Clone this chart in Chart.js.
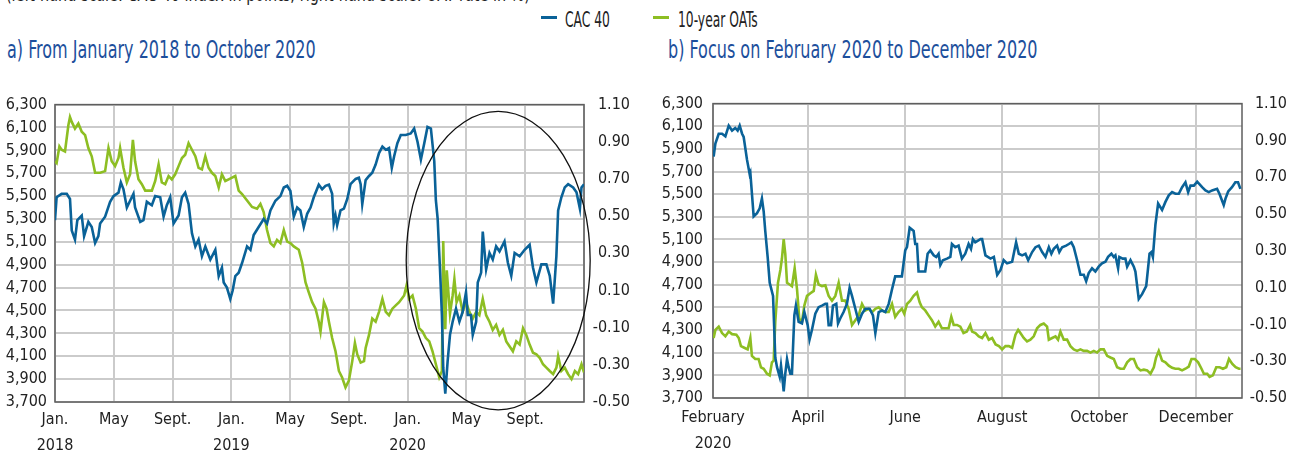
<!DOCTYPE html>
<html lang="en">
<head>
<meta charset="UTF-8">
<title>CAC 40 and 10-year OATs</title>
<script src="https://cdn.jsdelivr.net/npm/chart.js@4.4.1/dist/chart.umd.min.js"></script>
<style>
	body { margin: 0; width: 1301px; height: 455px; overflow: hidden; background: #fff;
		font-family: 'DejaVu Sans Condensed', 'DejaVu Sans', sans-serif; color: #222; }
	.abs { position: absolute; white-space: nowrap; }
	.note { left: 6px; top: -18px; font-size: 20px; transform: scaleX(0.8); transform-origin: left top; }
	.title { top: 36px; font-size: 22px; line-height: 26px; color: #1d4f9c; transform: scale(0.81, 1.1); transform-origin: left top; }
	.leg { top: 7px; font-size: 18px; line-height: 22px; transform: scale(0.76, 1.15); transform-origin: left top; }
	.dash { position: absolute; top: 16px; height: 3px; width: 16px; }
	canvas { position: absolute; }
</style>
</head>
<body>
	<div class="abs note">(left-hand scale: CAC 40 index in points; right-hand scale: OAT rate in %)</div>

	<!-- legende -->
	<div class="dash" style="left:541px; background:#0a6298"></div>
	<div class="abs leg" style="left:565px">CAC 40</div>
	<div class="dash" style="left:653px; background:#8dbe23"></div>
	<div class="abs leg" style="left:678px">10-year OATs</div>

	<div class="abs title" style="left:7px">a) From January 2018 to October 2020</div>
	<div class="abs title" style="left:668px">b) Focus on February 2020 to December 2020</div>

	<canvas id="chartA" width="650" height="368" style="left:0; top:87px"></canvas>
	<canvas id="chartB" width="651" height="371" style="left:650px; top:84px"></canvas>

<script>
	// ---- a) months since January 2018 ----
	var cacMonthsA = [0, 0.11, 0.45, 0.80, 1.02, 1.14, 1.36, 1.52, 1.82, 1.98, 2.27, 2.50, 2.73, 2.95, 3.07, 3.41, 3.75, 3.98,
		4.32, 4.48, 4.66, 4.89, 5.11, 5.34, 5.45, 5.80, 6.02, 6.25, 6.59, 6.82, 7.16, 7.39, 7.61, 7.84, 8.07, 8.41, 8.64, 8.86,
		9.09, 9.32, 9.55, 9.77, 10.00, 10.23, 10.57, 10.91, 11.14, 11.36, 11.48, 11.70, 11.93, 12.09, 12.27, 12.50, 12.73,
		13.07, 13.30, 13.52, 13.86, 14.20, 14.43, 14.66, 15.00, 15.34, 15.57, 15.80, 16.02, 16.25, 16.48, 16.70, 16.93, 17.16,
		17.39, 17.61, 17.95, 18.18, 18.41, 18.64, 18.86, 18.97, 19.09, 19.20, 19.43, 19.66, 19.89, 20.11, 20.46, 20.68, 20.80,
		20.91, 21.14, 21.37, 21.59, 21.82, 22.05, 22.28, 22.51, 22.73, 22.92, 23.08, 23.30, 23.53, 23.87, 24.21, 24.44, 24.67,
		24.90, 25.13, 25.35, 25.58, 25.81, 25.92, 26.04, 26.20, 26.33, 26.42, 26.56, 26.72, 26.88, 27.06, 27.29, 27.52, 27.74,
		27.97, 28.09, 28.31, 28.43, 28.66, 28.77, 29.00, 29.11, 29.34, 29.57, 29.79, 30.02, 30.25, 30.59, 30.82, 31.05, 31.28,
		31.62, 31.96, 32.30, 32.53, 32.76, 33.10, 33.44, 33.67, 33.90, 34.12, 34.24, 34.46, 34.69, 34.92, 35.26, 35.49, 35.72,
		35.83, 36.00];
	var cacA = [5290, 5490, 5520, 5520, 5475, 5200, 5120, 5290, 5330, 5150, 5275, 5230, 5090, 5150, 5260, 5320, 5450, 5500,
		5530, 5620, 5560, 5400, 5460, 5520, 5400, 5275, 5290, 5450, 5420, 5500, 5490, 5320, 5420, 5490, 5260, 5330, 5490, 5530,
		5430, 5175, 5060, 5120, 4975, 5060, 4945, 5030, 4800, 4875, 4745, 4700, 4600, 4675, 4800, 4830, 4915,
		5060, 5030, 5160, 5230, 5300, 5260, 5375, 5460, 5500, 5575, 5590, 5545, 5320, 5400, 5375, 5230, 5345,
		5400, 5490, 5600, 5560, 5590, 5600, 5520, 5260, 5330, 5246, 5375, 5390, 5475, 5604, 5650, 5660, 5604,
		5430, 5640, 5676, 5705, 5776, 5876, 5933, 5905, 5920, 5747, 5848, 5962, 6034, 6034, 6048, 6091, 5976,
		5819, 5962, 6105, 6091, 5805, 5462, 5304, 4860, 4460, 4000, 3772, 4058, 4287, 4402, 4516, 4402, 4488,
		4660, 4460, 4460, 4287, 4402, 4745, 4831, 5190, 4860, 5003, 4946, 5060, 5017, 5103, 4917, 4803, 5003,
		4974, 5031, 5074, 4874, 4745, 4903, 4903, 4803, 4560, 4974, 5375, 5490, 5576, 5604, 5576, 5533, 5390,
		5576, 5604];

	var oatMonthsA = [0, 0.11, 0.30, 0.45, 0.68, 0.91, 1.02, 1.14, 1.36, 1.59, 1.82, 2.05, 2.27, 2.50, 2.73, 3.07, 3.41, 3.64,
		3.86, 4.09, 4.32, 4.43, 4.66, 4.89, 5.11, 5.30, 5.45, 5.68, 5.91, 6.14, 6.36, 6.59, 6.82, 7.05, 7.27, 7.50, 7.73, 7.95,
		8.18, 8.41, 8.64, 8.86, 9.09, 9.32, 9.55, 9.77, 10.00, 10.23, 10.45, 10.68, 10.91, 11.14, 11.36, 11.59, 11.82, 12.05,
		12.27, 12.50, 12.73, 13.07, 13.41, 13.75, 13.98, 14.20, 14.43, 14.66, 14.89, 15.11, 15.34, 15.57, 15.80, 16.02, 16.25,
		16.59, 16.82, 17.05, 17.27, 17.50, 17.73, 17.95, 18.07, 18.30, 18.48, 18.64, 18.86, 19.09, 19.32, 19.54, 19.77, 20.00,
		20.23, 20.41, 20.57, 20.80, 21.03, 21.14, 21.37, 21.59, 21.82, 22.05, 22.28, 22.51, 22.73, 22.96, 23.19, 23.42, 23.76,
		23.92, 24.10, 24.33, 24.56, 24.78, 25.01, 25.24, 25.47, 25.69, 25.92, 26.15, 26.33, 26.42, 26.56, 26.66, 26.88, 27.06,
		27.18, 27.33, 27.52, 27.74, 27.97, 28.20, 28.43, 28.66, 28.88, 29.11, 29.34, 29.57, 29.79, 30.02, 30.25, 30.48, 30.71,
		30.93, 31.16, 31.39, 31.62, 31.85, 32.07, 32.30, 32.53, 32.76, 32.98, 33.21, 33.44, 33.67, 33.90, 34.12, 34.24, 34.46,
		34.69, 34.92, 35.15, 35.38, 35.60, 35.83, 36.00];
	var oatA = [0.795, 0.786, 0.875, 0.857, 0.848, 0.989, 1.033, 1.007, 0.971, 0.998, 0.954, 0.936, 0.866, 0.822, 0.733, 0.733,
		0.742, 0.866, 0.795, 0.769, 0.813, 0.866, 0.760, 0.681, 0.725, 0.910, 0.795, 0.698, 0.672, 0.637, 0.637, 0.637, 0.689,
		0.778, 0.681, 0.672, 0.716, 0.698, 0.725, 0.769, 0.813, 0.830, 0.892, 0.857, 0.822, 0.760, 0.751, 0.822, 0.760, 0.733,
		0.716, 0.654, 0.725, 0.689, 0.698, 0.707, 0.716, 0.637, 0.619, 0.584, 0.549, 0.540, 0.566, 0.522, 0.425, 0.355, 0.337,
		0.372, 0.355, 0.425, 0.363, 0.355, 0.337, 0.319, 0.249, 0.143, 0.090, 0.037, 0.002, -0.068, -0.121, 0.037, 0.002,
		-0.068, -0.156, -0.227, -0.333, -0.368, -0.421, -0.385, -0.280, -0.183, -0.244, -0.288, -0.280, -0.209, -0.139, -0.051,
		-0.068, -0.015, 0.055, -0.015, -0.033, 0.002, 0.020, 0.037, 0.073, 0.126, 0.055, 0.073, 0.002, -0.103, -0.121, -0.156,
		-0.174, -0.227, -0.297, -0.368, -0.333, 0.366, -0.109, 0.208, -0.025, 0.073, 0.161, 0.037, 0.073, -0.015, 0.037, -0.015,
		-0.051, -0.015, -0.033, 0.055, -0.033, -0.068, -0.112, -0.085, -0.139, -0.112, -0.174, -0.200, -0.227, -0.174, -0.191,
		-0.103, -0.139, -0.191, -0.235, -0.244, -0.262, -0.297, -0.315, -0.333, -0.350, -0.315, -0.253, -0.333, -0.315, -0.350,
		-0.377, -0.333, -0.350, -0.297, -0.341];

	var tickMonthsA = [0, 4, 8, 12, 16, 20, 24, 28, 32, 36];
	var tickLabelsA = [['Jan.', '2018'], 'May', 'Sept.', ['Jan.', '2019'], 'May', 'Sept.', ['Jan.', '2020'], 'May', 'Sept.', ''];

	// cercle sur la periode covid (mois, points)
	var circleA = { month: 30.16, value: 4936, halfMonths: 6.26, halfPoints: 1304 };

	// ---- b) days since 1 February 2020 ----
	var cacDaysB = [0.4, 1.5, 3.6, 5.7, 7.8, 9.9, 12.0, 14.0, 15.5, 16.8, 18.3, 19.3, 21.4, 23.1, 23.5, 25.6, 27.7, 29.4, 30.8,
		31.9, 32.9, 34.4, 35.7, 37.8, 39.2, 40.3, 42.0, 42.8, 43.6, 44.5, 45.5, 46.6, 47.6, 48.7, 49.7, 51.2, 52.2, 53.9, 56.0,
		57.5, 59.6, 60.8, 62.3, 64.4, 66.5, 68.6, 70.7, 71.7, 72.8, 74.3, 75.5, 77.6, 78.7, 80.1, 82.2, 84.3, 86.0, 87.5, 89.6,
		91.7, 93.8, 95.9, 98.6, 100.7, 102.2, 104.3, 106.4, 108.5, 110.6, 112.7, 114.7, 116.8, 118.9, 121.0, 122.1, 123.8, 126.3,
		127.3, 128.4, 129.4, 131.5, 133.6, 135.1, 136.8, 138.9, 140.5, 142.0, 143.1, 144.7, 147.3, 149.4, 150.4, 152.5, 154.6,
		156.7, 158.8, 160.9, 162.4, 163.6, 165.1, 168.4, 169.4, 171.5, 174.7, 176.8, 178.9, 181.0, 183.0, 185.1, 188.3, 190.8,
		192.5, 194.6, 196.7, 198.4, 200.9, 203.0, 205.1, 207.2, 209.3, 211.4, 213.0, 214.5, 216.6, 218.0, 219.8, 222.3, 224.0,
		225.6, 227.1, 229.2, 231.3, 233.4, 234.9, 236.5, 238.6, 240.7, 242.8, 244.9, 247.0, 248.7, 250.8, 252.3, 253.3, 255.0,
		255.8, 257.9, 259.6, 260.7, 262.8, 264.9, 265.9, 268.0, 270.1, 272.7, 274.8, 276.0, 276.9, 278.5, 280.2, 282.7, 284.8,
		286.9, 289.0, 291.1, 293.2, 295.3, 297.4, 299.1, 300.6, 302.7, 304.8, 307.9, 310.0, 312.1, 314.2, 317.3, 318.8, 321.5,
		322.6, 324.3, 326.7, 328.8, 330.5, 332.0];
	var cacB = [5833, 5948, 6034, 6034, 6011, 6105, 6062, 6085, 6062, 6105, 6034, 6005, 5805, 5676, 5690, 5304, 5332, 5375, 5461,
		5347, 5175, 4946, 4717, 4602, 4058, 3972, 3886, 3986, 3886, 3758, 3915, 4044, 3972, 3915, 3915, 4430, 4516, 4373, 4359,
		4459, 4344, 4216, 4302, 4445, 4502, 4516, 4531, 4531, 4344, 4344, 4516, 4531, 4359, 4402, 4459, 4531, 4674, 4602, 4488,
		4373, 4445, 4488, 4488, 4430, 4273, 4459, 4473, 4459, 4531, 4660, 4774, 4774, 4774, 5003, 5032, 5203, 5175,
		5060, 5060, 4817, 4817, 4817, 4974, 5003, 4960, 4946, 4974, 4874, 4917, 4931, 4946, 5060, 5032, 5046,
		4931, 4974, 5060, 5017, 5103, 5075, 5103, 5103, 4960, 4931, 4946, 4788, 4831, 4917, 4889, 4903, 5075,
		4974, 4960, 4974, 4917, 4989, 5032, 5046, 4989, 4946, 5032, 4974, 5017, 5046, 4989, 5032, 5046, 5060,
		5075, 5032, 4917, 4788, 4788, 4731, 4803, 4846, 4817, 4860, 4889, 4903, 4946, 4974, 4946, 4960, 4846,
		4946, 4931, 4931, 4860, 4917, 4860, 4817, 4574, 4617, 4688, 4974, 4989, 4946, 5232, 5418, 5361, 5432,
		5490, 5518, 5504, 5504, 5562, 5605, 5518, 5576, 5576, 5610, 5562, 5533, 5518, 5533, 5547, 5504, 5404,
		5461, 5524, 5562, 5605, 5605, 5547];

	var oatDaysB = [0.4, 1.5, 3.6, 5.7, 7.8, 9.9, 12.0, 14.7, 16.2, 17.6, 19.7, 21.8, 23.5, 24.5, 26.6, 28.7, 30.2, 31.9, 34.0,
		35.7, 37.1, 38.2, 39.2, 40.9, 42.4, 43.4, 44.5, 45.5, 46.6, 48.2, 49.7, 51.4, 52.9, 54.3, 56.0, 57.5, 59.2, 61.3, 63.4,
		64.8, 66.5, 68.6, 70.7, 72.8, 74.9, 77.0, 79.1, 81.2, 83.3, 85.4, 87.5, 89.6, 91.7, 93.8, 95.9, 98.0, 100.1, 102.2,
		104.3, 106.4, 108.5, 110.6, 112.7, 114.7, 116.8, 118.9, 120.4, 122.1, 124.2, 126.3, 128.4, 130.1, 131.5, 133.6, 135.7,
		137.8, 139.9, 142.0, 144.1, 146.2, 148.3, 150.0, 151.5, 153.6, 155.7, 157.7, 159.8, 161.9, 163.1, 165.2, 167.3, 169.4,
		171.5, 173.6, 175.7, 177.9, 180.0, 182.0, 184.1, 186.2, 188.3, 190.4, 192.1, 193.5, 195.6, 197.7, 199.8, 201.9, 204.0,
		206.1, 208.2, 210.3, 211.4, 213.5, 215.6, 217.2, 218.7, 220.8, 222.9, 225.0, 227.1, 229.2, 231.3, 233.4, 235.5, 237.6,
		239.7, 241.8, 243.9, 246.0, 248.1, 250.2, 252.3, 254.4, 256.5, 258.6, 260.7, 262.8, 264.9, 267.0, 269.1, 271.2, 273.3,
		275.4, 277.5, 278.9, 280.6, 282.7, 284.8, 286.9, 289.0, 291.1, 293.2, 295.3, 297.4, 299.5, 301.2, 303.3, 305.4, 307.5,
		309.0, 311.1, 312.6, 314.7, 316.8, 318.9, 321.0, 323.1, 324.8, 326.9, 329.0, 331.1, 332.1];
	var oatB = [-0.174, -0.130, -0.112, -0.147, -0.165, -0.139, -0.153, -0.156, -0.174, -0.218, -0.227, -0.236, -0.174, -0.271,
		-0.288, -0.288, -0.333, -0.341, -0.368, -0.377, -0.306, -0.297, -0.086, 0.126, 0.196, 0.258, 0.364, 0.284, 0.126, 0.117,
		0.108, 0.205, 0.090, -0.068, -0.086, 0.002, 0.055, 0.069, 0.082, 0.170, 0.117, 0.108, 0.112, 0.055, 0.029, 0.055, 0.126,
		0.029, 0.029, -0.015, -0.103, -0.077, -0.051, 0.011, -0.024, -0.015, -0.033, -0.015, -0.007, -0.024, -0.033, -0.033,
		0.011, -0.059, -0.033, -0.015, -0.042, 0.011, 0.029, 0.055, 0.073, 0.020, -0.007, -0.024, -0.051, -0.077, -0.112, -0.086,
		-0.121, -0.121, -0.121, -0.059, -0.103, -0.103, -0.112, -0.147, -0.139, -0.103, -0.139, -0.147, -0.165, -0.174, -0.147,
		-0.183, -0.174, -0.209, -0.218, -0.236, -0.218, -0.218, -0.227, -0.156, -0.130, -0.147, -0.174, -0.192, -0.183, -0.165,
		-0.121, -0.103, -0.095, -0.112, -0.183, -0.174, -0.165, -0.183, -0.139, -0.183, -0.183, -0.218, -0.236, -0.244, -0.236,
		-0.244, -0.244, -0.253, -0.244, -0.253, -0.236, -0.236, -0.271, -0.280, -0.288, -0.333, -0.341, -0.341, -0.306, -0.288,
		-0.288, -0.333, -0.350, -0.346, -0.350, -0.368, -0.333, -0.280, -0.244, -0.297, -0.306, -0.324, -0.336, -0.341, -0.341,
		-0.350, -0.341, -0.329, -0.288, -0.288, -0.306, -0.341, -0.368, -0.368, -0.385, -0.377, -0.333, -0.333, -0.341, -0.333,
		-0.288, -0.315, -0.333, -0.341, -0.341];

	var tickDaysB = [0, 60, 121, 182, 243, 304];
	var tickLabelsB = [['February', '2020'], 'April', 'June', 'August', 'October', 'December'];
	var lastDayB = 333;

	// axes
	var leftTicks = [3700, 3900, 4100, 4300, 4500, 4700, 4900, 5100, 5300, 5500, 5700, 5900, 6100, 6300];
	var rightTicks = [-0.5, -0.3, -0.1, 0.1, 0.3, 0.5, 0.7, 0.9, 1.1];

	var BLUE = '#0a6298';
	var GREEN = '#8dbe23';
	var GRID = '#cbcbcb';

	Chart.defaults.font.family = "'DejaVu Sans Condensed', 'DejaVu Sans', sans-serif";
	Chart.defaults.font.size = 16;
	Chart.defaults.color = '#222';

	function pairs(xs, ys) {
		return xs.map(function (x, i) { return { x: x, y: ys[i] }; });
	}

	var framePlugin = {
		id: 'frame',
		beforeDatasetsDraw: function (chart) {
			var a = chart.chartArea, ctx = chart.ctx;
			ctx.save();
			ctx.strokeStyle = '#5e5e5e';
			ctx.lineWidth = 1.5;
			ctx.strokeRect(a.left, a.top, a.right - a.left, a.bottom - a.top);
			ctx.restore();
		}
	};

	var circlePlugin = {
		id: 'circle',
		afterDraw: function (chart) {
			var xs = chart.scales.x, ys = chart.scales.y, ctx = chart.ctx;
			var cx = xs.getPixelForValue(circleA.month);
			var cy = ys.getPixelForValue(circleA.value);
			var rx = Math.abs(xs.getPixelForValue(circleA.month + circleA.halfMonths) - cx);
			var ry = Math.abs(ys.getPixelForValue(circleA.value + circleA.halfPoints) - cy);
			ctx.save();
			ctx.beginPath();
			ctx.ellipse(cx, cy, rx, ry, 0, 0, Math.PI * 2);
			ctx.lineWidth = 1.3;
			ctx.strokeStyle = '#111';
			ctx.stroke();
			ctx.restore();
		}
	};

	function makeChart(id, cfg) {
		return new Chart(document.getElementById(id), {
			type: 'line',
			data: {
				datasets: [{
					label: 'CAC 40',
					data: pairs(cfg.cacX, cfg.cacY),
					yAxisID: 'y',
					borderColor: BLUE,
					borderWidth: 2.6,
					pointRadius: 0,
					tension: 0
				}, {
					label: '10-year OATs',
					data: pairs(cfg.oatX, cfg.oatY),
					yAxisID: 'y1',
					borderColor: GREEN,
					borderWidth: 2.6,
					pointRadius: 0,
					tension: 0
				}]
			},
			plugins: cfg.plugins,
			options: {
				responsive: false,
				animation: false,
				layout: { padding: { top: 12, left: 0, right: cfg.padRight, bottom: 0 } },
				plugins: { legend: { display: false }, tooltip: { enabled: false } },
				scales: {
					x: {
						type: 'linear',
						min: cfg.xMin,
						max: cfg.xMax,
						afterBuildTicks: function (s) { s.ticks = cfg.ticks.map(function (v) { return { value: v }; }); },
						afterFit: function (s) { s.height = cfg.xHeight; },
						ticks: {
							autoSkip: false,
							maxRotation: 0,
							padding: cfg.xPad,
							font: { size: 16, lineHeight: 26 / 16 },
							callback: function (v, i) { return cfg.labels[i]; }
						},
						grid: { color: GRID, lineWidth: 2, drawTicks: false },
						border: { display: false }
					},
					y: {
						position: 'left',
						min: 3700,
						max: 6300,
						afterBuildTicks: function (s) { s.ticks = leftTicks.map(function (v) { return { value: v }; }); },
						afterFit: function (s) { s.width = cfg.leftW; },
						ticks: {
							autoSkip: false,
							padding: cfg.leftPad,
							callback: function (v) { return v.toLocaleString('en-US'); }
						},
						grid: { color: GRID, lineWidth: 2, drawTicks: false },
						border: { display: false }
					},
					y1: {
						position: 'right',
						min: -0.5,
						max: 1.1,
						afterBuildTicks: function (s) { s.ticks = rightTicks.map(function (v) { return { value: v }; }); },
						afterFit: function (s) { s.width = cfg.rightW; },
						ticks: {
							autoSkip: false,
							padding: 8,
							crossAlign: 'far',
							callback: function (v) { return v.toFixed(2); }
						},
						grid: { drawOnChartArea: false, drawTicks: false },
						border: { display: false }
					}
				}
			}
		});
	}

	makeChart('chartA', {
		cacX: cacMonthsA, cacY: cacA, oatX: oatMonthsA, oatY: oatA,
		xMin: 0, xMax: 36, ticks: tickMonthsA, labels: tickLabelsA,
		xHeight: 53, xPad: 5, leftW: 55, rightW: 46, padRight: 20, leftPad: 8,
		plugins: [framePlugin, circlePlugin]
	});

	makeChart('chartB', {
		cacX: cacDaysB, cacY: cacB, oatX: oatDaysB, oatY: oatB,
		xMin: 0, xMax: lastDayB, ticks: tickDaysB, labels: tickLabelsB,
		xHeight: 57, xPad: 7, leftW: 63, rightW: 45, padRight: 14, leftPad: 10,
		plugins: [framePlugin]
	});
</script>
</body>
</html>
